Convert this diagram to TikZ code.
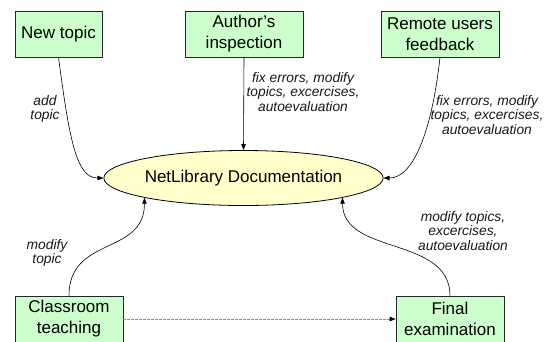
\documentclass[tikz,border=0pt]{standalone}
\usepackage{fontspec}
\setmainfont{Liberation Sans}
\usetikzlibrary{arrows.meta,shapes.geometric}
\definecolor{boxgreen}{HTML}{CCFFCC}
\definecolor{docyellow}{HTML}{FFFFCC}
\tikzset{
  actbox/.style={draw=black!85,fill=boxgreen,line width=0.7pt,inner sep=0pt,align=center,
    minimum height=46pt,font=\fontsize{17}{21}\selectfont},
  docnode/.style={draw=black,fill=docyellow,ellipse,line width=0.8pt,inner sep=0pt,
    minimum width=243pt,minimum height=55pt,font=\fontsize{17}{21}\selectfont},
  lbl/.style={align=center,inner sep=0pt,font=\fontsize{13.8}{14.6}\selectfont\itshape,text=black!90},
  conn/.style={line width=0.6pt,-{Triangle[length=6pt,width=4.5pt]}},
  dconn/.style={line width=0.6pt,draw=black!45,dash pattern=on 2.5pt off 1.5pt,
    -{Triangle[length=6pt,width=4.5pt,color=black]}}
}
\begin{document}
\begin{tikzpicture}[x=1pt,y=-1pt]
\useasboundingbox (0,0) rectangle (548,341);
\clip (0,0) rectangle (548,341);
\fill[white] (0,0) rectangle (548,341);
\node[actbox,minimum width=87pt] (nt) at (58.5,34) {New topic};
\node[actbox,minimum width=118pt] (ai) at (244,34) {Author's\\inspection};
\node[actbox,minimum width=118pt] (ru) at (440,34) {Remote users\\feedback};
\node[docnode] (doc) at (243.5,178) {NetLibrary Documentation};
\node[actbox,minimum width=108pt] (ct) at (69,319) {Classroom\\teaching};
\node[actbox,minimum width=108pt] (fe) at (450,319) {Final\\examination};
\draw[conn] (nt.south) .. controls +(11,83) and +(-27,0) .. (doc.west);
\draw[conn] (ai.south) -- (doc.north);
\draw[conn] (ru.south) .. controls +(-8,73) and +(30,0) .. (doc.east);
\draw[conn] (ct.north) .. controls +(0,-60) and +(0,58) .. (doc.south west);
\draw[conn] (fe.north) .. controls +(0,-60) and +(0,58) .. (doc.south east);
\draw[dconn] (ct.east) -- (fe.west);
\node[lbl] (l1) at (45,109) {add\\topic};
\node[lbl] (l2) at (303,92) {fix errors, modify\\topics, excercises,\\autoevaluation};
\node[lbl] (l3) at (487,115) {fix errors, modify\\topics, excercises,\\autoevaluation};
\node[lbl] (l4) at (47,253) {modify\\topic};
\node[lbl] (l5) at (463,231) {modify topics,\\excercises,\\autoevaluation};
\end{tikzpicture}
\end{document}
